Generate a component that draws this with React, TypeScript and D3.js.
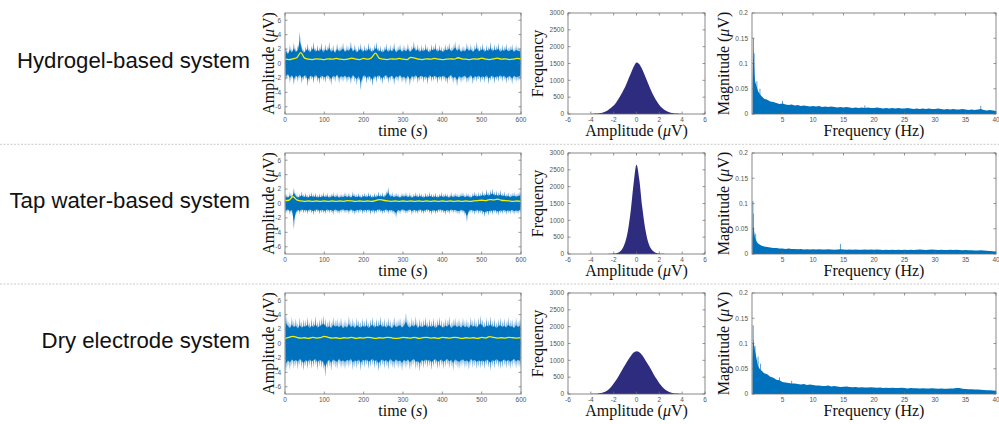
import React from 'react';
import * as d3 from 'd3';

// ---------- labels ----------
const rowLabels = ['Hydrogel-based system', 'Tap water-based system', 'Dry electrode system'];
const timeTicks = [0, 100, 200, 300, 400, 500, 600];
const ampTicks = [-6, -4, -2, 0, 2, 4, 6];
const histXTicks = [-6, -4, -2, 0, 2, 4, 6];
const histYTicks = [0, 500, 1000, 1500, 2000, 2500, 3000];
const specXTicks = [5, 10, 15, 20, 25, 30, 35, 40];
const specYTicks = [0, 0.05, 0.1, 0.15, 0.2];

// ---------- time series: per 5 s bin max / min (µV) ----------
const hydroMax = [
  2.3, 1.8, 2.6, 2.1, 2.9, 2.2, 2.5, 4.4, 2.7, 2.0,
  2.4, 2.8, 2.1, 2.5, 3.0, 2.2, 2.6, 2.3, 2.9, 2.1,
  2.7, 2.4, 3.0, 2.2, 2.6, 2.0, 2.8, 2.3, 2.5, 2.9,
  2.2, 2.6, 2.4, 3.1, 2.3, 2.7, 2.1, 2.5, 2.8, 2.2,
  2.6, 2.3, 2.9, 2.4, 2.2, 2.7, 3.0, 2.3, 2.5, 2.1,
  2.4, 2.8, 2.2, 2.6, 2.3, 2.9, 2.1, 2.5, 2.7, 2.2,
  2.6, 2.3, 2.8, 2.2, 2.5, 3.1, 2.4, 2.7, 2.2, 2.6,
  2.3, 2.8, 2.4, 2.1, 2.7, 2.5, 2.9, 2.2, 2.6, 2.4,
  2.2, 2.7, 2.5, 2.9, 2.3, 2.6, 3.1, 2.4, 2.8, 2.2,
  2.5, 2.3, 2.9, 2.4, 2.7, 2.2, 2.6, 3.0, 2.3, 2.5,
  2.8, 2.2, 2.6, 2.4, 3.0, 2.3, 2.7, 2.5, 2.9, 2.2,
  2.6, 2.4, 2.8, 2.3, 2.5, 2.7, 2.2, 2.6, 2.4, 2.3,
];
const hydroMin = [
  -2.4, -2.0, -2.7, -2.2, -3.0, -2.3, -2.6, -2.1, -2.8, -2.4,
  -2.2, -3.2, -2.5, -2.3, -2.8, -2.1, -2.6, -2.9, -2.3, -2.5,
  -2.7, -2.2, -2.5, -3.0, -2.3, -2.6, -2.1, -2.8, -2.4, -2.6,
  -2.3, -2.7, -2.4, -2.9, -2.2, -2.6, -3.0, -2.4, -3.7, -2.5,
  -2.2, -2.8, -2.4, -2.6, -3.2, -2.3, -2.7, -2.2, -2.5, -2.9,
  -2.4, -2.2, -2.8, -2.5, -2.3, -3.0, -2.4, -2.6, -2.2, -2.7,
  -2.5, -2.9, -2.3, -3.1, -2.4, -2.6, -2.2, -2.8, -2.5, -2.3,
  -2.7, -2.4, -2.9, -2.2, -2.6, -2.5, -2.3, -2.8, -2.4, -2.6,
  -2.3, -2.6, -2.9, -2.4, -2.2, -2.8, -2.5, -3.2, -2.4, -2.7,
  -2.5, -2.3, -2.8, -2.6, -2.2, -2.9, -2.4, -2.6, -2.3, -2.7,
  -2.4, -2.7, -2.2, -2.9, -2.5, -2.3, -2.8, -2.4, -2.6, -2.2,
  -2.6, -2.3, -2.8, -2.5, -2.4, -2.9, -2.3, -2.6, -2.5, -2.4,
];
const tapMax = [
  1.4, 1.2, 1.6, 1.3, 2.2, 1.5, 1.2, 1.4, 1.7, 1.3,
  1.5, 1.2, 1.4, 1.6, 1.3, 1.5, 1.2, 1.4, 1.3, 1.6,
  1.3, 1.5, 1.2, 1.4, 1.6, 1.3, 1.5, 1.2, 1.4, 1.3,
  1.6, 1.3, 1.5, 1.2, 1.7, 1.4, 1.3, 1.5, 1.2, 1.4,
  1.5, 1.3, 1.6, 1.4, 1.2, 1.5, 1.3, 1.7, 1.4, 1.6,
  1.3, 1.8, 2.3, 1.4, 1.6, 1.3, 1.5, 1.4, 1.2, 1.5,
  1.4, 1.6, 1.3, 1.5, 1.2, 1.4, 1.6, 1.3, 1.5, 1.4,
  1.2, 1.5, 1.3, 1.6, 1.4, 1.3, 1.5, 1.2, 1.4, 1.6,
  1.3, 1.5, 1.4, 1.2, 1.6, 1.3, 1.5, 1.4, 1.3, 1.5,
  1.6, 1.3, 1.5, 1.4, 1.2, 1.5, 1.7, 1.4, 1.6, 1.5,
  1.8, 1.5, 2.0, 1.6, 1.9, 2.1, 1.7, 1.8, 1.6, 1.9,
  1.5, 1.7, 1.4, 1.6, 1.3, 1.5, 1.6, 1.4, 1.5, 1.7,
];
const tapMin = [
  -1.4, -1.2, -1.6, -1.3, -3.6, -1.8, -1.3, -1.5, -1.2, -1.4,
  -1.3, -1.5, -1.2, -1.4, -1.6, -1.3, -1.2, -1.5, -1.3, -1.4,
  -1.5, -1.2, -1.4, -1.3, -1.6, -1.2, -1.4, -1.5, -1.3, -1.2,
  -1.4, -1.3, -1.5, -1.2, -1.4, -1.6, -1.3, -1.4, -1.2, -1.5,
  -1.3, -1.4, -1.2, -1.6, -1.3, -1.5, -1.4, -1.2, -1.3, -1.5,
  -1.4, -1.2, -1.5, -1.3, -1.4, -1.6, -2.0, -1.3, -1.5, -1.2,
  -1.3, -1.5, -1.4, -1.2, -1.6, -1.3, -1.4, -1.5, -1.2, -1.4,
  -1.5, -1.3, -1.2, -1.4, -1.6, -1.3, -1.5, -1.4, -1.2, -1.3,
  -1.4, -1.6, -1.3, -1.5, -1.2, -1.4, -1.3, -1.5, -1.6, -1.3,
  -1.4, -1.7, -2.6, -1.5, -1.3, -1.4, -1.6, -1.3, -1.5, -1.4,
  -1.6, -1.9, -1.5, -1.7, -1.4, -1.6, -1.3, -1.5, -1.7, -1.4,
  -1.5, -1.3, -1.6, -1.4, -1.5, -1.3, -1.6, -1.4, -1.5, -1.3,
];
const dryMax = [
  4.0, 3.4, 3.0, 3.7, 3.2, 3.5, 2.9, 3.6, 3.1, 3.4,
  3.3, 3.7, 3.0, 3.5, 3.2, 3.8, 3.1, 3.4, 3.6, 3.9,
  3.5, 3.1, 3.4, 3.0, 3.7, 3.3, 3.5, 3.2, 3.6, 3.0,
  3.4, 3.1, 3.8, 3.2, 3.5, 3.0, 3.6, 3.3, 3.1, 3.5,
  3.2, 3.6, 3.0, 3.4, 3.7, 3.1, 3.5, 3.3, 3.8, 3.2,
  3.5, 3.1, 3.6, 3.3, 3.0, 3.7, 3.2, 3.4, 3.6, 3.1,
  3.5, 4.3, 3.4, 3.1, 3.6, 3.3, 3.8, 3.0, 3.5, 3.2,
  3.4, 3.7, 3.1, 3.5, 3.2, 3.6, 3.0, 3.4, 3.7, 3.3,
  3.1, 3.5, 3.3, 3.8, 3.0, 3.4, 3.6, 3.2, 3.5, 3.1,
  3.6, 3.2, 3.4, 3.0, 3.7, 3.3, 3.5, 3.1, 3.6, 3.9,
  3.4, 3.1, 3.6, 3.3, 3.8, 3.2, 3.5, 3.0, 3.4, 3.6,
  3.2, 3.5, 3.1, 3.7, 3.3, 3.4, 3.0, 3.6, 3.2, 3.5,
];
const dryMin = [
  -3.9, -3.3, -3.7, -3.1, -3.5, -3.2, -3.6, -3.0, -3.4, -3.8,
  -3.2, -3.6, -3.1, -3.5, -3.3, -3.0, -3.7, -3.2, -3.4, -3.6,
  -4.6, -3.5, -3.2, -3.8, -3.1, -3.4, -3.6, -3.0, -3.5, -3.3,
  -3.6, -3.2, -3.4, -3.0, -3.7, -3.3, -3.5, -3.1, -3.8, -3.2,
  -3.4, -3.1, -3.6, -3.3, -3.0, -3.5, -3.2, -3.9, -3.4, -3.1,
  -3.5, -3.2, -3.7, -3.0, -3.4, -3.6, -3.1, -3.5, -3.3, -3.8,
  -3.2, -3.5, -3.1, -3.7, -3.3, -3.0, -3.6, -3.4, -3.9, -3.2,
  -3.5, -3.1, -3.4, -3.2, -3.7, -3.3, -3.0, -3.6, -3.4, -3.1,
  -3.6, -3.3, -3.0, -3.5, -3.2, -3.8, -3.1, -3.4, -3.6, -3.3,
  -3.1, -3.5, -3.3, -3.7, -3.0, -3.4, -3.2, -3.6, -3.3, -3.5,
  -3.3, -3.6, -3.1, -3.4, -3.8, -3.2, -3.5, -3.0, -3.4, -3.6,
  -3.4, -3.1, -3.5, -3.2, -3.6, -3.3, -3.0, -3.5, -3.2, -3.4,
];

// ---------- moving average (yellow), every 10 s ----------
const hydroMean = [
  0.6, 0.55, 0.65, 0.8, 1.5, 0.75, 0.6, 0.55, 0.65, 0.6,
  0.55, 0.65, 0.6, 0.7, 0.6, 0.55, 0.6, 0.75, 0.6, 0.55,
  0.7, 0.6, 0.8, 1.45, 0.7, 0.6, 0.55, 0.65, 0.6, 0.7,
  0.6, 0.55, 0.85, 0.75, 0.6, 0.55, 0.65, 0.6, 0.7, 0.6,
  0.55, 0.6, 0.65, 0.6, 0.8, 0.65, 0.6, 0.55, 0.65, 0.6,
  0.75, 0.6, 0.55, 0.65, 0.75, 0.6, 0.65, 0.55, 0.6, 0.7, 0.65,
];
const tapMean = [
  0.4, 0.45, 0.95, 0.5, 0.35, 0.3, 0.35, 0.3, 0.35, 0.3,
  0.35, 0.3, 0.35, 0.3, 0.35, 0.3, 0.4, 0.35, 0.3, 0.35,
  0.3, 0.35, 0.3, 0.4, 0.55, 0.45, 0.35, 0.3, 0.35, 0.3,
  0.35, 0.3, 0.35, 0.3, 0.35, 0.3, 0.35, 0.3, 0.35, 0.3,
  0.35, 0.3, 0.35, 0.3, 0.35, 0.3, 0.35, 0.3, 0.35, 0.4,
  0.45, 0.4, 0.55, 0.5, 0.6, 0.45, 0.4, 0.35, 0.3, 0.35, 0.3,
];
const dryMean = [
  0.7, 0.85, 1.0, 0.85, 0.75, 0.8, 0.7, 0.85, 0.75, 0.8,
  1.0, 0.85, 0.75, 0.8, 0.7, 0.8, 0.75, 0.85, 0.7, 0.8,
  0.75, 0.85, 0.8, 0.7, 0.8, 0.75, 0.85, 0.8, 0.7, 0.75,
  0.85, 0.8, 0.75, 0.85, 0.7, 0.8, 0.85, 0.75, 0.8, 0.7,
  0.85, 0.8, 0.75, 0.85, 0.8, 0.7, 0.8, 0.75, 0.8, 0.7,
  0.85, 0.75, 0.95, 0.85, 0.75, 0.8, 0.75, 0.85, 0.8, 0.75, 0.8,
];

// ---------- histograms: counts at amplitude = -4 .. 4 step 0.25 ----------
const histAmp = d3.range(-4, 4.001, 0.25);
const hydroHist = [
  3, 6, 12, 22, 40, 70, 115, 175, 250, 360, 490, 640, 800, 1000, 1200, 1400, 1530,
  1480, 1330, 1130, 920, 720, 540, 390, 270, 180, 115, 70, 40, 22, 12, 6, 3,
];
const tapHist = [
  0, 0, 0, 0, 0, 0, 2, 5, 12, 25, 60, 150, 340, 700, 1300, 2100, 2650,
  2200, 1400, 780, 380, 170, 75, 32, 14, 6, 2, 0, 0, 0, 0, 0, 0,
];
const dryHist = [
  2, 5, 10, 20, 38, 70, 120, 200, 310, 430, 570, 720, 860, 1000, 1130, 1230, 1270,
  1240, 1150, 1020, 880, 740, 590, 450, 320, 215, 135, 80, 45, 24, 12, 6, 3,
];

// ---------- spectra ----------
const specFreq = [0.1, 0.2, 0.3, 0.4, 0.5, 0.75, 1, 1.25, 1.5, 1.75, ...d3.range(2, 40.001, 0.5)];
const hydroSpec = [
  0.06, 0.13, 0.11, 0.08, 0.065, 0.055, 0.045, 0.04, 0.036, 0.033,
  0.030, 0.028, 0.025, 0.024, 0.022, 0.020, 0.021, 0.019, 0.018, 0.019,
  0.017, 0.018, 0.016, 0.017, 0.016, 0.015, 0.016, 0.015, 0.016, 0.014,
  0.015, 0.014, 0.015, 0.014, 0.013, 0.014, 0.013, 0.014, 0.013, 0.012,
  0.013, 0.012, 0.013, 0.012, 0.013, 0.012, 0.012, 0.013, 0.012, 0.011,
  0.012, 0.011, 0.012, 0.011, 0.012, 0.011, 0.011, 0.012, 0.011, 0.010,
  0.011, 0.010, 0.011, 0.010, 0.011, 0.010, 0.010, 0.011, 0.010, 0.009,
  0.010, 0.009, 0.010, 0.009, 0.009, 0.010, 0.009, 0.008, 0.009, 0.008,
  0.009, 0.010, 0.008, 0.007, 0.008, 0.007, 0.006,
];
const tapSpec = [
  0.03, 0.055, 0.05, 0.04, 0.032, 0.025, 0.021, 0.019, 0.017, 0.016,
  0.015, 0.014, 0.013, 0.012, 0.012, 0.011, 0.011, 0.010, 0.011, 0.010,
  0.010, 0.0095, 0.010, 0.009, 0.0095, 0.009, 0.0095, 0.009, 0.0095, 0.009,
  0.009, 0.0095, 0.009, 0.0085, 0.009, 0.0095, 0.009, 0.0085, 0.009, 0.0085,
  0.009, 0.0085, 0.0085, 0.009, 0.0085, 0.009, 0.0085, 0.009, 0.0085, 0.008,
  0.0085, 0.008, 0.0085, 0.008, 0.0085, 0.008, 0.0085, 0.008, 0.0085, 0.008,
  0.0085, 0.009, 0.0085, 0.008, 0.0085, 0.009, 0.0085, 0.008, 0.0085, 0.008,
  0.008, 0.0085, 0.008, 0.0085, 0.008, 0.0075, 0.008, 0.0075, 0.0075, 0.007,
  0.007, 0.0075, 0.007, 0.0065, 0.006, 0.0055, 0.005,
];
const drySpec = [
  0.07, 0.11, 0.10, 0.093, 0.085, 0.07, 0.055, 0.05, 0.047, 0.044,
  0.041, 0.039, 0.034, 0.032, 0.028, 0.027, 0.024, 0.023, 0.022, 0.021,
  0.021, 0.020, 0.019, 0.020, 0.018, 0.019, 0.018, 0.017, 0.017, 0.016,
  0.016, 0.017, 0.015, 0.016, 0.015, 0.014, 0.0145, 0.015, 0.014, 0.0135,
  0.014, 0.013, 0.0135, 0.013, 0.013, 0.0135, 0.013, 0.0125, 0.013, 0.012,
  0.0125, 0.012, 0.0125, 0.012, 0.012, 0.0125, 0.012, 0.011, 0.012, 0.0115,
  0.0115, 0.011, 0.0115, 0.011, 0.011, 0.0115, 0.011, 0.0105, 0.011, 0.0105,
  0.0105, 0.011, 0.011, 0.012, 0.012, 0.0105, 0.010, 0.0095, 0.0095, 0.009,
  0.009, 0.0085, 0.008, 0.0075, 0.0072, 0.007, 0.0066,
];
const hydroPeakF = [0.25, 0.35, 0.8, 1.3, 5, 18.5, 37.5];
const hydroPeakV = [0.15, 0.12, 0.065, 0.05, 0.026, 0.017, 0.016];
const tapPeakF = [0.15, 0.25, 0.6, 14.5];
const tapPeakV = [0.105, 0.08, 0.04, 0.02];
const dryPeakF = [0.2, 0.5, 1.0, 1.4, 4.5, 6.5];
const dryPeakV = [0.136, 0.095, 0.074, 0.06, 0.033, 0.026];

const TIME_BIN = 5;
const MEAN_STEP = 10;

const rows = [
  { max: hydroMax, min: hydroMin, mean: hydroMean, hist: hydroHist, spec: hydroSpec, pf: hydroPeakF, pv: hydroPeakV, core: 0.72 },
  { max: tapMax, min: tapMin, mean: tapMean, hist: tapHist, spec: tapSpec, pf: tapPeakF, pv: tapPeakV, core: 0.66 },
  { max: dryMax, min: dryMin, mean: dryMean, hist: dryHist, spec: drySpec, pf: dryPeakF, pv: dryPeakV, core: 0.7 },
];

// ---------- layout ----------
const ROW_TOP = [13, 153, 293];
const PH = 101;
const TS = [285, 521];
const HI = [568, 705];
const SP = [752, 996];
const AX = '#6b6b6b';
const SPIKE = '#5a9fd2';
const TICK_FONT = "'Liberation Sans', Arial, sans-serif";
const SERIF = "'Liberation Serif', 'Times New Roman', serif";

type FrameProps = {
  x: d3.ScaleLinear<number, number>;
  y: d3.ScaleLinear<number, number>;
  xt: number[];
  yt: number[];
};

function Frame({ x, y, xt, yt }: FrameProps) {
  const [x0, x1] = x.range();
  const [y1, y0] = y.range();
  const tl = 2.5;
  return (
    <g>
      <rect x={x0} y={y0} width={x1 - x0} height={y1 - y0} fill="none" stroke={AX} strokeWidth={0.8} />
      {xt.map((v) => (
        <g key={'x' + v}>
          <line x1={x(v)} x2={x(v)} y1={y1} y2={y1 - tl} stroke={AX} strokeWidth={0.7} />
          <line x1={x(v)} x2={x(v)} y1={y0} y2={y0 + tl} stroke={AX} strokeWidth={0.7} />
          <text x={x(v)} y={y1 + 8} fontSize={6.5} fontFamily={TICK_FONT} fill="#555" textAnchor="middle">
            {String(v)}
          </text>
        </g>
      ))}
      {yt.map((v) => (
        <g key={'y' + v}>
          <line x1={x0} x2={x0 + tl} y1={y(v)} y2={y(v)} stroke={AX} strokeWidth={0.7} />
          <line x1={x1} x2={x1 - tl} y1={y(v)} y2={y(v)} stroke={AX} strokeWidth={0.7} />
          <text x={x0 - 4} y={y(v) + 2.3} fontSize={6.5} fontFamily={TICK_FONT} fill="#555" textAnchor="end">
            {String(v)}
          </text>
        </g>
      ))}
    </g>
  );
}

function Row({ idx }: { idx: number }) {
  const r = rows[idx];
  const top = ROW_TOP[idx];
  const bot = top + PH;

  // time series
  const tx = d3.scaleLinear().domain([0, 600]).range(TS);
  const ty = d3.scaleLinear().domain([-7, 7]).range([bot, top]);
  const binL = (i: number) => tx(i * TIME_BIN);
  const binC = (i: number) => tx(i * TIME_BIN + TIME_BIN / 2);
  const binR = (i: number) => tx((i + 1) * TIME_BIN);

  // spike polygons: a narrow peak per bin rising from the core edge to the bin max / min
  const spikePath = (vals: number[]) => {
    const p = d3.path();
    p.moveTo(binL(0), ty(0));
    vals.forEach((v, i) => {
      p.lineTo(binL(i) + 0.3, ty(v * r.core));
      p.lineTo(binC(i), ty(v));
      p.lineTo(binR(i) - 0.3, ty(v * r.core));
    });
    p.lineTo(binR(vals.length - 1), ty(0));
    p.closePath();
    return p.toString();
  };

  const coreArea = d3
    .area<number>()
    .x((_, i) => binC(i))
    .y0((_, i) => ty(r.min[i] * r.core))
    .y1((d) => ty(d * r.core))(r.max) as string;
  const meanLine = d3
    .line<number>()
    .x((_, i) => tx(i * MEAN_STEP))
    .y((d) => ty(d))
    .curve(d3.curveMonotoneX)(r.mean) as string;

  // histogram
  const hx = d3.scaleLinear().domain([-6, 6]).range(HI);
  const hy = d3.scaleLinear().domain([0, 3000]).range([bot, top]);
  const histArea = d3
    .area<number>()
    .x((_, i) => hx(histAmp[i]))
    .y0(hy(0))
    .y1((d) => hy(d))
    .curve(d3.curveMonotoneX)(r.hist) as string;

  // spectrum
  const sx = d3.scaleLinear().domain([0, 40]).range(SP);
  const sy = d3.scaleLinear().domain([0, 0.2]).range([bot, top]);
  const n = Math.min(specFreq.length, r.spec.length);
  const specArea = d3
    .area<number>()
    .x((i) => sx(specFreq[i]))
    .y0(sy(0))
    .y1((i) => sy(r.spec[i]))(d3.range(n)) as string;

  const cy = top + PH / 2;

  return (
    <g>
      <text x={250} y={top + 55} fontSize={22.2} fontFamily={TICK_FONT} fill="#111" textAnchor="end">
        {rowLabels[idx]}
      </text>

      {/* time series */}
      <g>
        <path d={spikePath(r.max)} fill={SPIKE} />
        <path d={spikePath(r.min)} fill={SPIKE} />
        <path d={coreArea} fill="#0072BD" />
        <path d={meanLine} fill="none" stroke="#f2f200" strokeWidth={1.3} />
      </g>
      <Frame x={tx} y={ty} xt={timeTicks} yt={ampTicks} />
      <text x={(TS[0] + TS[1]) / 2} y={bot + 22} fontSize={16} fontFamily={SERIF} fill="#111" textAnchor="middle">
        time (<tspan fontStyle="italic">s</tspan>)
      </text>
      <text transform={`translate(274,${cy}) rotate(-90)`} fontSize={16} fontFamily={SERIF} fill="#111" textAnchor="middle">
        Amplitude (<tspan fontStyle="italic">μ</tspan>V)
      </text>

      {/* histogram */}
      <path d={histArea} fill="#2e2c7f" />
      <Frame x={hx} y={hy} xt={histXTicks} yt={histYTicks} />
      <text x={(HI[0] + HI[1]) / 2} y={bot + 22} fontSize={16} fontFamily={SERIF} fill="#111" textAnchor="middle">
        Amplitude (<tspan fontStyle="italic">μ</tspan>V)
      </text>
      <text transform={`translate(543,${cy}) rotate(-90)`} fontSize={16} fontFamily={SERIF} fill="#111" textAnchor="middle">
        Frequency
      </text>

      {/* spectrum */}
      {r.pf.map((f, i) => (
        <line key={'p' + i} x1={sx(f)} x2={sx(f)} y1={sy(0)} y2={sy(r.pv[i])} stroke={SPIKE} strokeWidth={1} />
      ))}
      <path d={specArea} fill="#0072BD" />
      <Frame x={sx} y={sy} xt={specXTicks} yt={specYTicks} />
      <text x={(SP[0] + SP[1]) / 2} y={bot + 22} fontSize={16} fontFamily={SERIF} fill="#111" textAnchor="middle">
        Frequency (Hz)
      </text>
      <text transform={`translate(729,${cy}) rotate(-90)`} fontSize={16} fontFamily={SERIF} fill="#111" textAnchor="middle">
        Magnitude (<tspan fontStyle="italic">μ</tspan>V)
      </text>
    </g>
  );
}

export default function App() {
  return (
    <svg
      width={999}
      height={424}
      viewBox="0 0 999 424"
      style={{ position: 'absolute', left: 0, top: 0, background: '#fff' }}
    >
      <rect width={999} height={424} fill="#fff" />
      {[144.3, 284].map((yy) => (
        <line key={yy} x1={0} x2={999} y1={yy} y2={yy} stroke="#bdbdbd" strokeWidth={0.8} strokeDasharray="2,1.5" />
      ))}
      {[0, 1, 2].map((i) => (
        <Row key={i} idx={i} />
      ))}
    </svg>
  );
}
